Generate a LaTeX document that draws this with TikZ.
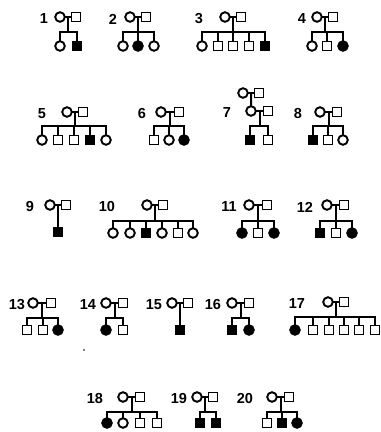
\documentclass[tikz,border=0pt]{standalone}
\usepackage{fontspec}
\setmainfont{Liberation Sans}
\newfontfamily\labfamily{Liberation Sans}
\tikzset{
  lab/.style={font=\labfamily\bfseries\fontsize{14.5}{15}\selectfont, inner sep=0pt},
  sym/.style={draw, line width=1.9pt, inner sep=0pt},
  fo/.style={sym, circle, minimum size=9.6pt},
  ff/.style={fo, fill=black},
  mo/.style={sym, rectangle, minimum size=9pt},
  mf/.style={mo, fill=black},
  conn/.style={line width=1.9pt, line cap=rect}
}
\newcommand{\pcouple}[6]{%
  \node[lab] (#1l) at (#3,#6+2) {#2};
  \node[fo] (#1f) at (#4,#6) {};
  \node[mo] (#1m) at (#5,#6) {};
  \draw[conn] (#1f) -- coordinate (#1c) (#1m);
}
\newcommand{\pkids}[4]{%
  \coordinate (#1s) at (#1c |- 0,#2);
  \draw[conn] (#1c) -- (#1s);
  \foreach \x/\t [count=\i, remember=\i as \j (initially 0)] in {#4} {
    \edef\tmpnode{\noexpand\node[\t] (#1k\i) at (\x,#3) {};}\tmpnode
    \draw[conn] (#1k\i |- #1s) -- (#1k\i);
    \ifnum\i>1 \draw[conn] (#1k\j |- #1s) -- (#1k\i |- #1s);\fi
  }
}
\begin{document}
\begin{tikzpicture}[x=1pt,y=-1pt]
\fill[white] (0,0) rectangle (381,432);
\useasboundingbox (0,0) rectangle (381,432);
% row 1
\pcouple{pa}{1}{44}{60}{76}{17}
\pkids{pa}{32}{46}{60/fo,77/mf}
\pcouple{pb}{2}{113}{130}{146}{17}
\pkids{pb}{32}{46}{123/fo,138/ff,154/fo}
\pcouple{pc}{3}{199}{225}{241}{17}
\pkids{pc}{32}{46}{202/fo,218/mo,233/mo,249/mo,265/mf}
\pcouple{pd}{4}{302}{317}{333}{17}
\pkids{pd}{32}{46}{312/fo,327/mo,343/ff}
% row 2
\pcouple{pe}{5}{42}{67}{83}{112}
\pkids{pe}{126}{140}{42/fo,58/mo,74/mo,90/mf,106/fo}
\pcouple{pf}{6}{142}{161}{179}{112}
\pkids{pf}{126}{140}{154/mo,169/fo,184/ff}
\node[fo] (pggf) at (243,93) {};
\node[mo] (pggm) at (259,93) {};
\draw[conn] (pggf) -- coordinate (pggc) (pggm);
\pcouple{pg}{7}{227}{251}{268}{111}
\draw[conn] (pggc) -- (pgf);
\pkids{pg}{126}{140}{250/mf,268/mo}
\pcouple{ph}{8}{298}{320}{337}{112}
\pkids{ph}{126}{140}{313/mf,328/mo,343/fo}
% row 3
\pcouple{pi}{9}{30}{50}{66}{205}
\pkids{pi}{220}{232}{58/mf}
\pcouple{pj}{10}{107}{147}{163}{205}
\pkids{pj}{221}{233}{113/fo,130/fo,146/mf,162/fo,178/mo,193/fo}
\pcouple{pk}{11}{229}{249}{267}{205}
\pkids{pk}{221}{233}{242/ff,258/mo,274/ff}
\pcouple{pl}{12}{305}{327}{344}{205}
\pkids{pl}{221}{233}{320/mf,336/mo,352/ff}
% row 4
\pcouple{pm}{13}{17}{33}{51}{303}
\pkids{pm}{318}{330}{27/mo,43/mo,58/ff}
\pcouple{pn}{14}{88}{106}{123}{303}
\pkids{pn}{318}{330}{106/ff,123/mo}
\pcouple{po}{15}{154}{172}{188}{303}
\pkids{po}{318}{330}{180/mf}
\pcouple{pp}{16}{213}{232}{249}{303}
\pkids{pp}{318}{330}{232/mf,249/ff}
\pcouple{pq}{17}{297}{328}{344}{302}
\pkids{pq}{317}{330}{295/ff,313/mo,329/mo,344/mo,359/mo,375/mo}
\fill (84,350) circle (0.8);
% row 5
\pcouple{pr}{18}{95}{123}{140}{397}
\pkids{pr}{412}{423}{107/ff,123/fo,140/mo,157/mo}
\pcouple{ps}{19}{179}{197}{213}{397}
\pkids{ps}{412}{423}{200/mf,216/mf}
\pcouple{pt}{20}{245}{272}{289}{397}
\pkids{pt}{412}{423}{267/mo,282/mf,297/ff}
\end{tikzpicture}
\end{document}
